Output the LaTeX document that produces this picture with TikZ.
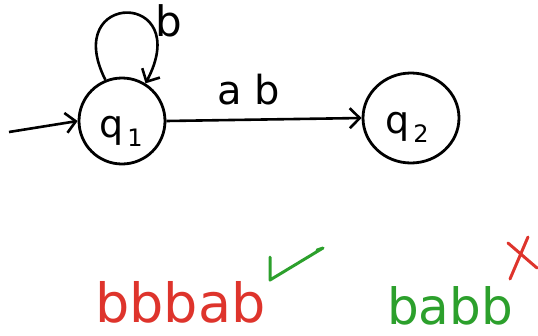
\documentclass[tikz,border=0pt]{standalone}
\usepackage{fontspec}
\setmainfont{DejaVu Sans}
\usetikzlibrary{arrows.meta,shapes.geometric}
\definecolor{inkred}{RGB}{222,52,44}
\definecolor{inkgreen}{RGB}{44,160,44}
\tikzset{
  state/.style={circle, draw, line width=2.8pt, inner sep=0pt},
  edge/.style={line width=2.6pt, -{Straight Barb[length=10pt,width=20pt,line width=2.6pt]}},
  lbl/.style={inner sep=0pt, anchor=base west},
}
\newcommand{\qlab}[1]{\fontsize{38}{38}\selectfont q\raisebox{-0.25em}{\fontsize{24}{24}\selectfont\,#1}}
\begin{document}
\begin{tikzpicture}[x=1pt,y=1pt]
\useasboundingbox (0,0) rectangle (538,-335);
\node[state, minimum size=86pt] (q1) at (122,-121) {};
\node[draw, line width=2.8pt, inner sep=0pt, ellipse, minimum width=96pt, minimum height=90pt] (q2) at (411,-118) {};
\node[lbl] (q1t) at (99,-137) {\qlab{1}};
\node[lbl] (q2t) at (385,-133) {\qlab{2}};
\coordinate (init) at (9,-132);
\draw[edge] (init) -- (q1.west);
\draw[edge] (q1.east) -- (q2.west);
\draw[edge] (q1.112) .. controls (60,10) and (195,10) .. (q1.58);
\node[lbl] (lb) at (155,-36) {\fontsize{42}{42}\selectfont b};
\node[lbl] (lab) at (217,-104) {\fontsize{40}{40}\selectfont a b};
\node[lbl, text=inkred] (w1) at (95,-322) {\fontsize{54}{54}\selectfont bbbab};
\node[lbl, text=inkgreen] (w2) at (387,-324) {\fontsize{50}{50}\selectfont babb};
\draw[inkgreen, line width=3pt, line cap=round, line join=round]
  (270,-257) -- (270,-280) -- (323,-248) -- (317,-250);
\draw[inkred, line width=3pt, line cap=round]
  (508,-243) -- (537,-268) (528,-237) -- (510,-279);
\end{tikzpicture}
\end{document}
